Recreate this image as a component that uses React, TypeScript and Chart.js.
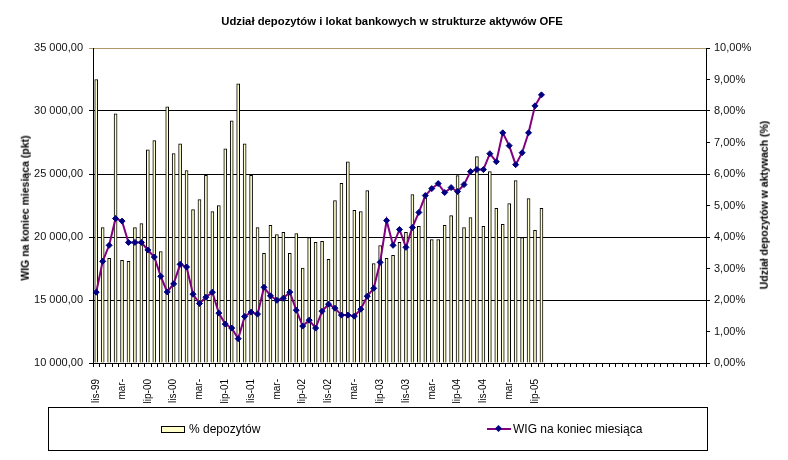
import { useEffect, useRef } from "react";
import { Chart, registerables } from "chart.js";

Chart.register(...registerables);

// months with data (end of month), lis-99 .. sie-05
const MONTHS = [
  "lis-99", "gru-99",
  "sty-00", "lut-00", "mar-00", "kwi-00", "maj-00", "cze-00", "lip-00", "sie-00", "wrz-00", "paź-00", "lis-00", "gru-00",
  "sty-01", "lut-01", "mar-01", "kwi-01", "maj-01", "cze-01", "lip-01", "sie-01", "wrz-01", "paź-01", "lis-01", "gru-01",
  "sty-02", "lut-02", "mar-02", "kwi-02", "maj-02", "cze-02", "lip-02", "sie-02", "wrz-02", "paź-02", "lis-02", "gru-02",
  "sty-03", "lut-03", "mar-03", "kwi-03", "maj-03", "cze-03", "lip-03", "sie-03", "wrz-03", "paź-03", "lis-03", "gru-03",
  "sty-04", "lut-04", "mar-04", "kwi-04", "maj-04", "cze-04", "lip-04", "sie-04", "wrz-04", "paź-04", "lis-04", "gru-04",
  "sty-05", "lut-05", "mar-05", "kwi-05", "maj-05", "cze-05", "lip-05", "sie-05",
];
// empty rows left at the end of the sheet range
const EMPTY_SLOTS = 25;

// labels as they show on the axis (every 4th month)
const TICK_LABELS = [
  "lis-99", "mar-", "lip-00", "lis-00", "mar-", "lip-01", "lis-01", "mar-", "lip-02",
  "lis-02", "mar-", "lip-03", "lis-03", "mar-", "lip-04", "lis-04", "mar-", "lip-05",
];

// % depozytów (right axis)
const DEPOSITS_PCT = [
  9.0, 4.3, 3.32, 7.91, 3.26, 3.23, 4.3, 4.43, 6.77, 7.06, 3.54, 8.13, 6.65, 6.96,
  6.11, 4.87, 5.19, 5.96, 4.81, 5.0, 6.8, 7.69, 8.86, 6.96, 5.96, 4.3, 3.48, 4.37,
  4.08, 4.15, 3.48, 4.11, 3.01, 3.98, 3.83, 3.86, 3.29, 5.16, 5.7, 6.39, 4.85, 4.81,
  5.47, 3.16, 3.73, 3.32, 3.42, 3.83, 4.15, 5.35, 4.34, 5.25, 3.92, 3.92, 4.37, 4.68,
  5.95, 4.3, 4.62, 6.55, 4.34, 6.08, 4.91, 4.4, 5.06, 5.79, 3.98, 5.22, 4.21, 4.91,
];

// WIG na koniec miesiąca (left axis)
const WIG = [
  15620, 18070, 19340, 21470, 21260, 19570, 19570, 19570, 18970, 18410, 16880, 15640, 16280, 17830,
  17620, 15460, 14720, 15220, 15620, 13960, 13090, 12770, 11930, 13690, 14040, 13880, 16010, 15330,
  14980, 15140, 15620, 14190, 12930, 13400, 12770, 14110, 14670, 14350, 13800, 13800, 13720, 14270,
  15300, 15930, 17990, 21310, 19340, 20600, 19180, 20760, 21950, 23290, 23840, 24240, 23530, 23920,
  23610, 24160, 25190, 25350, 25350, 26610, 25980, 28270, 27250, 25740, 26690, 28270, 30410, 31280,
];

const FONT = '"Liberation Sans", Arial, sans-serif';
const TOP_LINE = "#b09868";

function fmtPkt(v: number) {
  const [int, dec] = v.toFixed(2).split(".");
  return int.replace(/\B(?=(\d{3})+(?!\d))/g, " ") + "," + dec;
}

function fmtPct(v: number) {
  return v.toFixed(2).replace(".", ",") + "%";
}

function DepositsChart() {
  const canvasRef = useRef<HTMLCanvasElement>(null);

  useEffect(() => {
    if (!canvasRef.current) return;
    Chart.defaults.font.family = FONT;
    const chart = new Chart(canvasRef.current, {
      type: "bar",
      data: {
        labels: [...MONTHS, ...Array(EMPTY_SLOTS).fill("")],
        datasets: [
          {
            type: "line",
            label: "WIG na koniec miesiąca",
            data: WIG,
            yAxisID: "y",
            borderColor: "#800080",
            borderWidth: 2,
            pointStyle: "rectRot",
            pointRadius: 3,
            pointBackgroundColor: "#000080",
            pointBorderColor: "#000080",
            pointBorderWidth: 1,
            tension: 0,
            order: 0,
          },
          {
            type: "bar",
            label: "% depozytów",
            data: DEPOSITS_PCT,
            yAxisID: "y1",
            backgroundColor: "#ffffcc",
            borderColor: "#000",
            borderWidth: 1,
            barThickness: 3,
            order: 1,
          },
        ],
      },
      options: {
        animation: false,
        responsive: false,
        layout: { padding: { top: 48, left: 0, right: 0, bottom: 0 } },
        plugins: {
          legend: { display: false },
          title: { display: false },
          tooltip: { enabled: false },
        },
        scales: {
          x: {
            offset: true,
            grid: { offset: true, drawOnChartArea: false, drawTicks: true, tickLength: 4, color: "#000" },
            border: { color: "#000" },
            ticks: {
              autoSkip: false,
              maxRotation: 90,
              minRotation: 90,
              padding: 12,
              color: "#000",
              font: { size: 10 },
              callback: (_v: any, i: number) => (i % 4 === 0 ? TICK_LABELS[i / 4] ?? "" : ""),
            },
            afterFit: (s: any) => {
              s.height = 97;
            },
          },
          y: {
            position: "left",
            min: 10000,
            max: 35000,
            ticks: {
              stepSize: 5000,
              padding: 6,
              color: "#111",
              font: { size: 11 },
              callback: (v: any) => fmtPkt(Number(v)),
            },
            grid: {
              tickLength: 4,
              color: (ctx: any) => (ctx.tick && ctx.tick.value === 35000 ? TOP_LINE : "#000"),
            },
            border: { color: "#000" },
            afterFit: (s: any) => {
              s.width = 93;
            },
          },
          y1: {
            position: "right",
            min: 0,
            max: 10,
            ticks: {
              stepSize: 1,
              padding: 4,
              color: "#111",
              font: { size: 11 },
              callback: (v: any) => fmtPct(Number(v)),
            },
            grid: { drawOnChartArea: false, tickLength: 4, color: "#000" },
            border: { color: "#000" },
            afterFit: (s: any) => {
              s.width = 82;
            },
          },
        },
      },
    });
    return () => {
      chart.destroy();
    };
  }, []);

  return <canvas ref={canvasRef} width={788} height={460} style={{ position: "absolute", left: 0, top: 0 }} />;
}

export default function App() {
  return (
    <div
      style={{
        position: "absolute",
        left: 0,
        top: 0,
        width: 788,
        height: 460,
        background: "#fff",
        fontFamily: FONT,
        color: "#000",
      }}
    >
      <DepositsChart />

      {/* title */}
      <div
        style={{
          position: "absolute",
          left: 392,
          top: 22,
          transform: "translate(-50%, -50%)",
          fontSize: 11.3,
          fontWeight: "bold",
          whiteSpace: "nowrap",
          lineHeight: 1,
        }}
      >
        Udział depozytów i lokat bankowych w strukturze aktywów OFE
      </div>

      {/* axis titles */}
      <div
        style={{
          position: "absolute",
          left: 25,
          top: 208,
          transform: "translate(-50%, -50%) rotate(-90deg)",
          fontSize: 10.5,
          fontWeight: "bold",
          whiteSpace: "nowrap",
          lineHeight: 1,
        }}
      >
        WIG na koniec miesiąca (pkt)
      </div>
      <div
        style={{
          position: "absolute",
          left: 764,
          top: 205,
          transform: "translate(-50%, -50%) rotate(-90deg)",
          fontSize: 10.5,
          fontWeight: "bold",
          whiteSpace: "nowrap",
          lineHeight: 1,
        }}
      >
        Udział depozytów w aktywach (%)
      </div>

      {/* legend */}
      <div
        style={{
          position: "absolute",
          left: 48,
          top: 407,
          width: 660,
          height: 44,
          boxSizing: "border-box",
          border: "1px solid #000",
          fontSize: 12,
        }}
      >
        <div
          style={{
            position: "absolute",
            left: 112,
            top: 18,
            width: 24,
            height: 7,
            boxSizing: "border-box",
            border: "1px solid #000",
            background: "#ffffcc",
          }}
        />
        <div style={{ position: "absolute", left: 140, top: 15, lineHeight: "13px", whiteSpace: "nowrap" }}>
          % depozytów
        </div>
        <div style={{ position: "absolute", left: 438, top: 20, width: 24, height: 2, background: "#800080" }} />
        <div
          style={{
            position: "absolute",
            left: 447,
            top: 18,
            width: 5,
            height: 5,
            background: "#000080",
            transform: "rotate(45deg)",
          }}
        />
        <div style={{ position: "absolute", left: 464, top: 15, lineHeight: "13px", whiteSpace: "nowrap" }}>
          WIG na koniec miesiąca
        </div>
      </div>
    </div>
  );
}
